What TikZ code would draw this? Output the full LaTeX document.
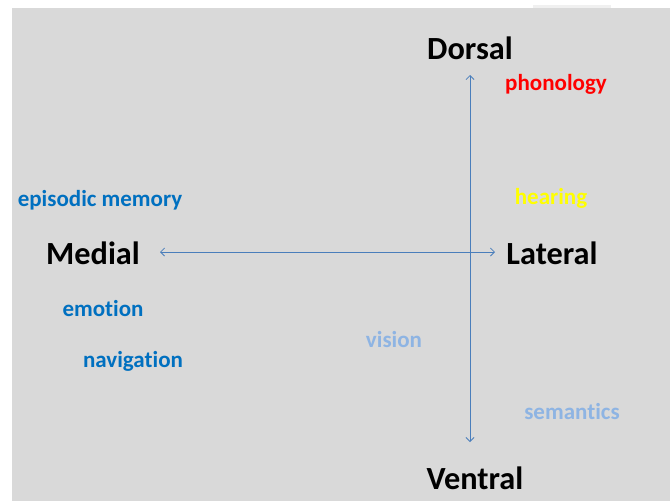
\documentclass[tikz,border=0pt]{standalone}
\usepackage{fontspec}
\setmainfont{Carlito}[Ligatures={NoCommon,NoContextual}]
\usetikzlibrary{arrows.meta}
\definecolor{bggray}{HTML}{D9D9D9}
\definecolor{axisblue}{HTML}{4A7EBB}
\definecolor{darkblue}{HTML}{0070C0}
\definecolor{lightblue}{HTML}{8EB4E3}
\definecolor{hearyellow}{HTML}{FFFF00}
\definecolor{phonred}{HTML}{FF0000}
\tikzset{
  axislabel/.style={font=\fontsize{32.3}{38}\selectfont\bfseries, text=black, inner sep=0pt, anchor=center},
  topic/.style={font=\fontsize{23}{27}\selectfont\bfseries, inner sep=0pt, anchor=center},
  axis/.style={draw=axisblue, line width=0.8pt, {Straight Barb[length=4pt,width=8pt]}-{Straight Barb[length=4pt,width=8pt]}}
}
\begin{document}
\begin{tikzpicture}[x=1pt,y=-1pt]
\useasboundingbox (0,0) rectangle (670,501);
\fill[white] (0,0) rectangle (670,501);
\fill[bggray] (12,8) rectangle (670,501);
\fill[gray!12] (533,5) rectangle (611,8);
% axes
\coordinate (top) at (470,75);
\coordinate (bottom) at (470,442);
\coordinate (left) at (160,252);
\coordinate (right) at (495,252);
\draw[axis] (top) -- (bottom);
\draw[axis] (left) -- (right);
% axis labels
\node[axislabel] (dorsal) at (470,48) {Dorsal};
\node[axislabel] (medial) at (93,253) {Medial};
\node[axislabel] (lateral) at (552,253) {Lateral};
\node[axislabel] (ventral) at (475,478) {Ventral};
% topics
\node[topic, text=phonred] (phonology) at (556,84) {phonology};
\node[topic, text=darkblue] (episodic) at (100,200) {episodic memory};
\node[topic, text=hearyellow] (hearing) at (551,198) {hearing};
\node[topic, text=darkblue] (emotion) at (103,309) {emotion};
\node[topic, text=darkblue] (navigation) at (133,361) {navigation};
\node[topic, text=lightblue] (vision) at (394,340) {vision};
\node[topic, text=lightblue] (semantics) at (572,412) {semantics};
\end{tikzpicture}
\end{document}
